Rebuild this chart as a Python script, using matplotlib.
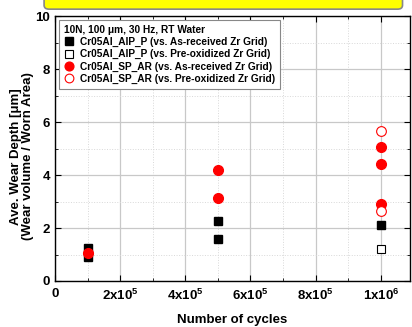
import matplotlib
matplotlib.use("Agg")
import matplotlib.pyplot as plt
from matplotlib.patches import FancyBboxPatch
from matplotlib.ticker import MultipleLocator, FixedLocator

plt.rcParams['font.family'] = ['Liberation Sans', 'DejaVu Sans']
plt.rcParams['font.weight'] = 'bold'
plt.rcParams['mathtext.fontset'] = 'custom'
plt.rcParams['mathtext.rm'] = 'Liberation Sans:bold'
plt.rcParams['mathtext.bf'] = 'Liberation Sans:bold'

# data
aip_ar_x = [1e5, 1e5, 5e5, 5e5, 1e6]
aip_ar_y = [1.25, 0.9, 2.25, 1.58, 2.11]
aip_ox_x = [1e6]
aip_ox_y = [1.22]
sp_ar_x = [1e5, 5e5, 5e5, 1e6, 1e6, 1e6]
sp_ar_y = [1.05, 4.18, 3.13, 5.06, 4.43, 2.89]
sp_ox_x = [1e6, 1e6]
sp_ox_y = [5.66, 2.63]

xticks = [0, 2e5, 4e5, 6e5, 8e5, 1e6]
xticklabels = ['0', r'$\mathbf{2x10^5}$', r'$\mathbf{4x10^5}$', r'$\mathbf{6x10^5}$',
               r'$\mathbf{8x10^5}$', r'$\mathbf{1x10^6}$']

fig = plt.figure(figsize=(4.12, 3.27), dpi=100)
ax = fig.add_axes([0.1335, 0.1407, 0.862, 0.81])

# cut-off yellow header box
fig.patches.append(FancyBboxPatch((0.107, 0.972), 0.87, 0.06,
                                  boxstyle="round,pad=0,rounding_size=0.012",
                                  transform=fig.transFigure, facecolor='#ffff00',
                                  edgecolor='#888888', linewidth=1.2, zorder=0))

ax.plot(aip_ar_x, aip_ar_y, 's', color='black', ms=6.2, mec='black',
        label='Cr05Al_AIP_P (vs. As-received Zr Grid)', zorder=3)
ax.plot(aip_ox_x, aip_ox_y, 's', mfc='white', mec='black', ms=6.2, mew=0.8,
        label='Cr05Al_AIP_P (vs. Pre-oxidized Zr Grid)', zorder=3)
ax.plot(sp_ar_x, sp_ar_y, 'o', color='red', ms=7, mec='red',
        label='Cr05Al_SP_AR (vs. As-received Zr Grid)', zorder=4)
ax.plot(sp_ox_x, sp_ox_y, 'o', mfc='white', mec='red', ms=7, mew=0.8,
        label='Cr05Al_SP_AR (vs. Pre-oxidized Zr Grid)', zorder=4)

ax.set_xlim(0, 1.09e6)
ax.set_ylim(0, 10)
ax.xaxis.set_major_locator(FixedLocator(xticks))
ax.set_xticklabels(xticklabels)
ax.xaxis.set_minor_locator(MultipleLocator(1e5))
ax.yaxis.set_major_locator(MultipleLocator(2))
ax.yaxis.set_minor_locator(MultipleLocator(1))

ax.grid(which='major', color='#c8c8c8', linewidth=0.9, linestyle='-')
ax.grid(which='minor', color='#d8d8d8', linewidth=0.7, linestyle=':')
ax.set_axisbelow(True)

ax.tick_params(which='both', direction='in', top=True, right=True, labelsize=9.5)
ax.tick_params(which='major', length=4)
ax.tick_params(which='minor', length=2.5)
ax.tick_params(axis='x', pad=5)
for s in ax.spines.values():
    s.set_linewidth(1.0)
for lab in ax.get_yticklabels():
    lab.set_fontweight('bold')

ax.set_xlabel('Number of cycles', fontsize=9.5, fontweight='bold', labelpad=8)
ax.set_ylabel('Ave. Wear Depth [\u03bcm]\n(Wear volume / Worn Area)', fontsize=9.5,
              fontweight='bold', linespacing=1.1)
ax.yaxis.set_label_coords(-0.058, 0.47)

leg = ax.legend(loc='upper left', fontsize=7.3, title='10N, 100 \u03bcm, 30 Hz, RT Water',
                title_fontsize=7.3, fancybox=False, edgecolor='#888888', framealpha=1,
                handletextpad=0.6, labelspacing=0.22, borderpad=0.45, handlelength=1.0,
                borderaxespad=0.4, markerscale=0.9)
leg._legend_box.align = 'left'
leg.get_title().set_fontweight('bold')
for t in leg.get_texts():
    t.set_fontweight('bold')
leg.get_frame().set_linewidth(0.8)

fig.savefig('out.png', dpi=100)
